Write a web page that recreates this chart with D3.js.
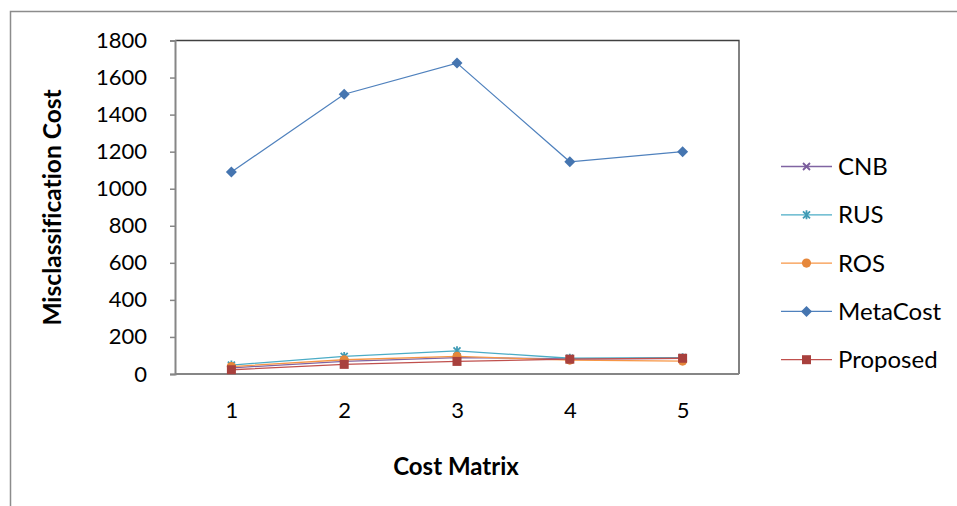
<!DOCTYPE html>
<html>
<head>
<meta charset="utf-8">
<script src="https://cdn.jsdelivr.net/npm/d3@7"></script>
<style>
  html, body { margin: 0; padding: 0; background: #ffffff; }
  svg { display: block; }
  text { font-family: Lato, "Open Sans", sans-serif; fill: #000; font-variant-ligatures: none; }
</style>
</head>
<body>
<svg id="chart" width="957" height="506"></svg>
<script>
// Misclassification cost per cost matrix, one array per method
const categories = ["1", "2", "3", "4", "5"];
const yTicks = [0, 200, 400, 600, 800, 1000, 1200, 1400, 1600, 1800];
const cnb      = [33, 68, 88, 82, 85];
const rus      = [48, 95, 125, 85, 88];
const ros      = [40, 77, 95, 75, 70];
const metaCost = [1090, 1510, 1678, 1145, 1200];
const proposed = [23, 52, 68, 80, 85];

const seriesNames = ["CNB", "RUS", "ROS", "MetaCost", "Proposed"];
const seriesValues = [cnb, rus, ros, metaCost, proposed];
const lineColors   = ["#8064a2", "#4bacc6", "#f79646", "#4f81bd", "#c0504d"];
const markerColors = ["#7a5c9c", "#3f9bb5", "#e6873a", "#4575b0", "#a8403d"];
const markerTypes  = ["x", "star", "circle", "diamond", "square"];

const svg = d3.select("#chart");
const plot = { left: 175, right: 739, top: 40.5, bottom: 374 };

// outer frame (top and left edges)
svg.append("path")
  .attr("d", "M10.5,506 V11.5 H957")
  .attr("fill", "none").attr("stroke", "#8c8c8c").attr("stroke-width", 1.5);

const x = d3.scalePoint().domain(categories).range([plot.left, plot.right]).padding(0.5);
const y = d3.scaleLinear().domain([0, 1800]).range([plot.bottom, plot.top]);

// plot area box: top and right edges
svg.append("path")
  .attr("d", `M${plot.left},${plot.top} H${plot.right} V${plot.bottom}`)
  .attr("fill", "none").attr("stroke", "#404040").attr("stroke-width", 1.3);

// y axis
const yAxis = svg.append("g")
  .attr("transform", `translate(${plot.left},0)`)
  .call(d3.axisLeft(y).tickValues(yTicks).tickSize(5).tickPadding(23).tickFormat(d3.format("d")));
yAxis.select(".domain").attr("stroke", "#868686").attr("stroke-width", 2);
yAxis.selectAll(".tick line").attr("stroke", "#868686").attr("stroke-width", 1.5);
yAxis.selectAll(".tick text").style("font-size", "22px").attr("fill", "#000");

// x axis
const xAxis = svg.append("g")
  .attr("transform", `translate(0,${plot.bottom})`)
  .call(d3.axisBottom(x).tickSize(0).tickPadding(28));
xAxis.select(".domain").attr("d", `M${plot.left},0H${plot.right}`)
  .attr("stroke", "#868686").attr("stroke-width", 2);
xAxis.selectAll(".tick text").style("font-size", "22px").attr("fill", "#000");

// axis titles
svg.append("text")
  .attr("transform", "translate(52,207.5) rotate(-90)")
  .attr("text-anchor", "middle").attr("dy", "0.35em")
  .style("font-size", "24.5px").style("font-weight", "bold")
  .text("Misclassification Cost");
svg.append("text")
  .attr("x", 456).attr("y", 467).attr("dy", "0.35em")
  .attr("text-anchor", "middle")
  .style("font-size", "24px").style("font-weight", "bold")
  .text("Cost Matrix");

// marker drawing
function drawMarker(g, type, cx, cy, color) {
  if (type === "x") {
    g.append("path").attr("d", `M${cx-3.5},${cy-3.5}L${cx+3.5},${cy+3.5}M${cx-3.5},${cy+3.5}L${cx+3.5},${cy-3.5}`)
      .attr("stroke", color).attr("stroke-width", 1.8).attr("fill", "none");
  } else if (type === "star") {
    g.append("path").attr("d", `M${cx-3.5},${cy-3.5}L${cx+3.5},${cy+3.5}M${cx-3.5},${cy+3.5}L${cx+3.5},${cy-3.5}M${cx},${cy-4.5}V${cy+4.5}`)
      .attr("stroke", color).attr("stroke-width", 1.8).attr("fill", "none");
  } else if (type === "circle") {
    g.append("circle").attr("cx", cx).attr("cy", cy).attr("r", 4.6).attr("fill", color);
  } else if (type === "diamond") {
    g.append("path").attr("d", `M${cx},${cy-5.5}L${cx+5.5},${cy}L${cx},${cy+5.5}L${cx-5.5},${cy}Z`).attr("fill", color);
  } else if (type === "square") {
    g.append("rect").attr("x", cx-4.5).attr("y", cy-4.5).attr("width", 9).attr("height", 9).attr("fill", color);
  }
}

const line = d3.line().x((d, i) => x(categories[i])).y(d => y(d));

seriesValues.forEach((vals, si) => {
  const g = svg.append("g").attr("class", "series");
  g.append("path").datum(vals)
    .attr("d", line)
    .attr("fill", "none").attr("stroke", lineColors[si]).attr("stroke-width", 1.3);
  vals.forEach((v, i) => drawMarker(g, markerTypes[si], x(categories[i]), y(v), markerColors[si]));
});

// legend
const legend = svg.append("g");
seriesNames.forEach((name, si) => {
  const ly = 166.5 + si * 48.3;
  const g = legend.append("g");
  g.append("line").attr("x1", 781).attr("x2", 832).attr("y1", ly).attr("y2", ly)
    .attr("stroke", lineColors[si]).attr("stroke-width", 1.3);
  drawMarker(g, markerTypes[si], 806.5, ly, markerColors[si]);
  g.append("text").attr("x", 838).attr("y", ly).attr("dy", "0.36em")
    .style("font-size", "24px").text(name);
});
</script>
</body>
</html>
